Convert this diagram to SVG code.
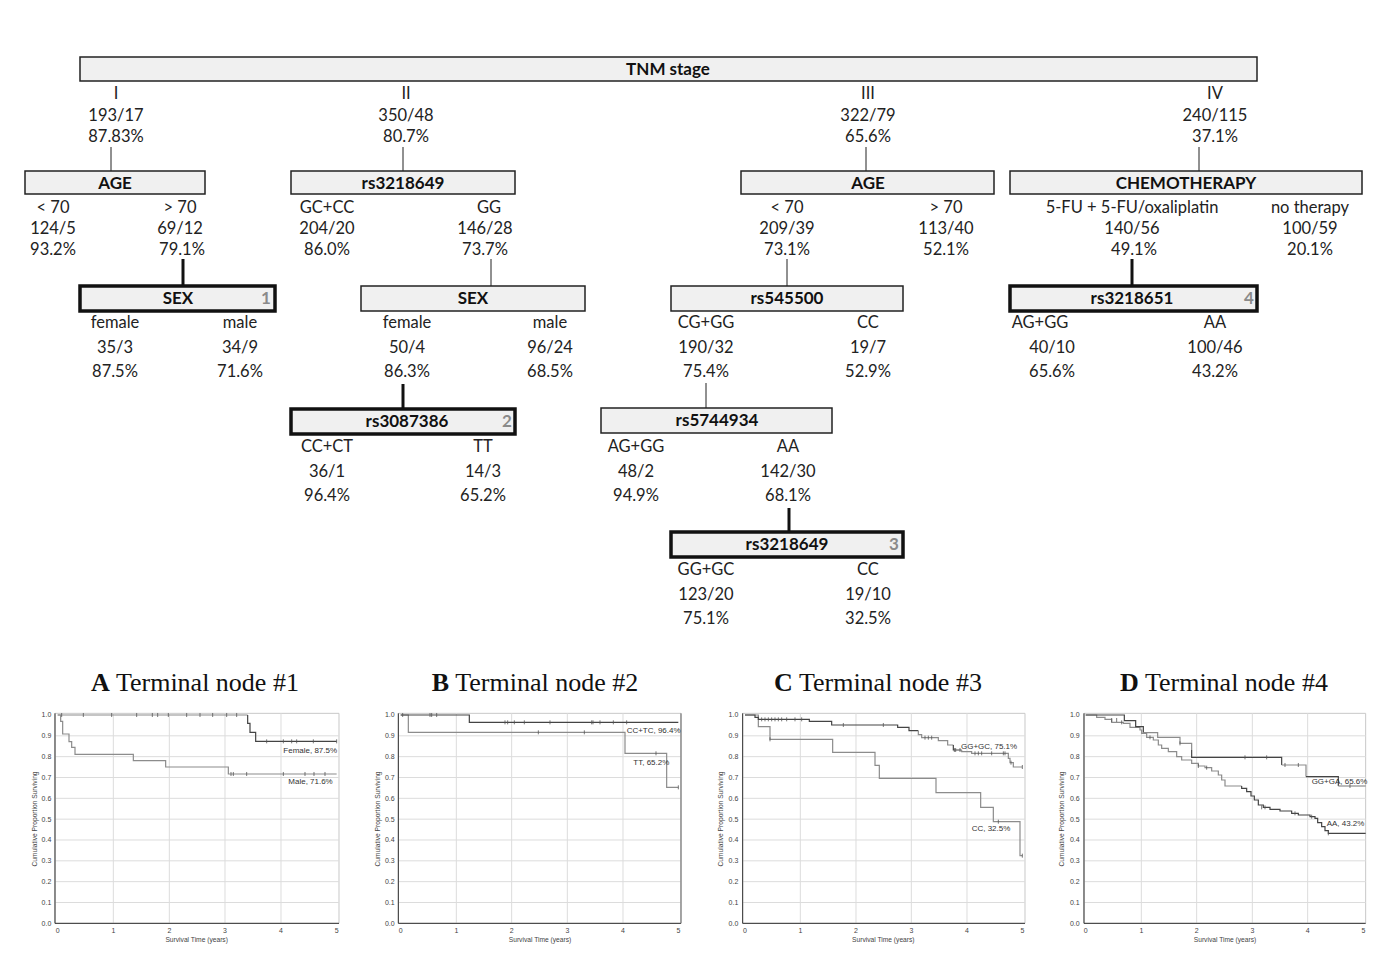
<svg xmlns="http://www.w3.org/2000/svg" width="1387" height="969" viewBox="0 0 1387 969">
<style>
.box{fill:#f0f0f0;stroke:#222;stroke-width:1.5}
.tb{fill:#f0f0f0;stroke:#111;stroke-width:3.5}
.h{font-family:Lato,"Liberation Sans",sans-serif;font-weight:bold;font-size:17px;fill:#111;text-anchor:middle}
.t{font-family:Lato,"Liberation Sans",sans-serif;font-size:16.5px;fill:#222;text-anchor:middle}
.num{font-family:Lato,"Liberation Sans",sans-serif;font-weight:bold;font-size:17px;fill:#8a8a8a;text-anchor:middle}
.ln{stroke:#222;stroke-width:1;fill:none}
.tl{stroke:#111;stroke-width:3;fill:none}
.ttl{font-family:"Liberation Serif","Times New Roman",serif;font-size:26px;fill:#111;text-anchor:middle}
.grid{stroke:#dcdcdc;stroke-width:1;fill:none;vector-effect:non-scaling-stroke}
.frame{stroke:#c8c8c8;stroke-width:1;fill:none;vector-effect:non-scaling-stroke}
.ax{stroke:#333;stroke-width:1;fill:none;vector-effect:non-scaling-stroke}
.cd{stroke:#444;stroke-width:1.2;fill:none;vector-effect:non-scaling-stroke}
.cl{stroke:#8c8c8c;stroke-width:1.2;fill:none;vector-effect:non-scaling-stroke}
.ck{stroke:#555;stroke-width:0.8;fill:none;vector-effect:non-scaling-stroke}
.tk{font-family:"Liberation Sans",Arial,sans-serif;font-size:21px;fill:#444}
.at{font-family:"Liberation Sans",Arial,sans-serif;font-size:20px;fill:#444;text-anchor:middle}
.lb{font-family:"Liberation Sans",Arial,sans-serif;font-size:24px;fill:#333}
</style>
<rect x="0" y="0" width="1387" height="969" fill="#fff"/>

<g id="connectors">
<line class="ln" x1="111" y1="147" x2="111" y2="171"/>
<line class="ln" x1="403" y1="147" x2="403" y2="171"/>
<line class="ln" x1="866" y1="147" x2="866" y2="171"/>
<line class="ln" x1="1199" y1="147" x2="1199" y2="171"/>
<line class="tl" x1="183" y1="259" x2="183" y2="286"/>
<line class="ln" x1="491" y1="259" x2="491" y2="286"/>
<line class="ln" x1="787" y1="259" x2="787" y2="286"/>
<line class="tl" x1="1132" y1="259" x2="1132" y2="286"/>
<line class="tl" x1="403" y1="384" x2="403" y2="408"/>
<line class="ln" x1="706" y1="383" x2="706" y2="408"/>
<line class="tl" x1="789" y1="508" x2="789" y2="531"/>
</g>

<g id="node-tnm">
<rect class="box" x="80" y="57" width="1177" height="24"/>
<text class="h" x="668" y="75">TNM stage</text>
<text class="t" x="116" y="99">I</text><text class="t" x="116" y="121">193/17</text><text class="t" x="116" y="142">87.83%</text>
<text class="t" x="406" y="99">II</text><text class="t" x="406" y="121">350/48</text><text class="t" x="406" y="142">80.7%</text>
<text class="t" x="868" y="99">III</text><text class="t" x="868" y="121">322/79</text><text class="t" x="868" y="142">65.6%</text>
<text class="t" x="1215" y="99">IV</text><text class="t" x="1215" y="121">240/115</text><text class="t" x="1215" y="142">37.1%</text>
</g>

<g id="node-age1">
<rect class="box" x="25" y="171" width="180" height="23"/>
<text class="h" x="115" y="189">AGE</text>
<text class="t" x="53" y="213">&lt; 70</text><text class="t" x="53" y="234">124/5</text><text class="t" x="53" y="255">93.2%</text>
<text class="t" x="180" y="213">&gt; 70</text><text class="t" x="180" y="234">69/12</text><text class="t" x="182" y="255">79.1%</text>
</g>

<g id="node-rs3218649a">
<rect class="box" x="291" y="171" width="224" height="23"/>
<text class="h" x="403" y="189">rs3218649</text>
<text class="t" x="327" y="213">GC+CC</text><text class="t" x="327" y="234">204/20</text><text class="t" x="327" y="255">86.0%</text>
<text class="t" x="489" y="213">GG</text><text class="t" x="485" y="234">146/28</text><text class="t" x="485" y="255">73.7%</text>
</g>

<g id="node-age3">
<rect class="box" x="741" y="171" width="253" height="23"/>
<text class="h" x="868" y="189">AGE</text>
<text class="t" x="787" y="213">&lt; 70</text><text class="t" x="787" y="234">209/39</text><text class="t" x="787" y="255">73.1%</text>
<text class="t" x="946" y="213">&gt; 70</text><text class="t" x="946" y="234">113/40</text><text class="t" x="946" y="255">52.1%</text>
</g>

<g id="node-chemo">
<rect class="box" x="1010" y="171" width="352" height="23"/>
<text class="h" x="1186" y="189">CHEMOTHERAPY</text>
<text class="t" x="1132" y="213">5-FU + 5-FU/oxaliplatin</text><text class="t" x="1132" y="234">140/56</text><text class="t" x="1134" y="255">49.1%</text>
<text class="t" x="1310" y="213">no therapy</text><text class="t" x="1310" y="234">100/59</text><text class="t" x="1310" y="255">20.1%</text>
</g>

<g id="node-sex1">
<rect class="tb" x="80" y="286" width="195" height="25"/>
<text class="h" x="178" y="304">SEX</text>
<text class="num" x="266" y="304">1</text>
<text class="t" x="115" y="328">female</text><text class="t" x="115" y="353">35/3</text><text class="t" x="115" y="377">87.5%</text>
<text class="t" x="240" y="328">male</text><text class="t" x="240" y="353">34/9</text><text class="t" x="240" y="377">71.6%</text>
</g>

<g id="node-sex2">
<rect class="box" x="361" y="286" width="224" height="25"/>
<text class="h" x="473" y="304">SEX</text>
<text class="t" x="407" y="328">female</text><text class="t" x="407" y="353">50/4</text><text class="t" x="407" y="377">86.3%</text>
<text class="t" x="550" y="328">male</text><text class="t" x="550" y="353">96/24</text><text class="t" x="550" y="377">68.5%</text>
</g>

<g id="node-rs545500">
<rect class="box" x="671" y="286" width="232" height="25"/>
<text class="h" x="787" y="304">rs545500</text>
<text class="t" x="706" y="328">CG+GG</text><text class="t" x="706" y="353">190/32</text><text class="t" x="706" y="377">75.4%</text>
<text class="t" x="868" y="328">CC</text><text class="t" x="868" y="353">19/7</text><text class="t" x="868" y="377">52.9%</text>
</g>

<g id="node-rs3218651">
<rect class="tb" x="1010" y="286" width="247" height="25"/>
<text class="h" x="1132" y="304">rs3218651</text>
<text class="num" x="1249" y="304">4</text>
<text class="t" x="1040" y="328">AG+GG</text><text class="t" x="1052" y="353">40/10</text><text class="t" x="1052" y="377">65.6%</text>
<text class="t" x="1215" y="328">AA</text><text class="t" x="1215" y="353">100/46</text><text class="t" x="1215" y="377">43.2%</text>
</g>

<g id="node-rs3087386">
<rect class="tb" x="291" y="409" width="224" height="25"/>
<text class="h" x="407" y="427">rs3087386</text>
<text class="num" x="507" y="427">2</text>
<text class="t" x="327" y="452">CC+CT</text><text class="t" x="327" y="477">36/1</text><text class="t" x="327" y="501">96.4%</text>
<text class="t" x="483" y="452">TT</text><text class="t" x="483" y="477">14/3</text><text class="t" x="483" y="501">65.2%</text>
</g>

<g id="node-rs5744934">
<rect class="box" x="601" y="408" width="231" height="25"/>
<text class="h" x="717" y="426">rs5744934</text>
<text class="t" x="636" y="452">AG+GG</text><text class="t" x="636" y="477">48/2</text><text class="t" x="636" y="501">94.9%</text>
<text class="t" x="788" y="452">AA</text><text class="t" x="788" y="477">142/30</text><text class="t" x="788" y="501">68.1%</text>
</g>

<g id="node-rs3218649b">
<rect class="tb" x="671" y="532" width="232" height="25"/>
<text class="h" x="787" y="550">rs3218649</text>
<text class="num" x="894" y="550">3</text>
<text class="t" x="706" y="575">GG+GC</text><text class="t" x="706" y="600">123/20</text><text class="t" x="706" y="624">75.1%</text>
<text class="t" x="868" y="575">CC</text><text class="t" x="868" y="600">19/10</text><text class="t" x="868" y="624">32.5%</text>
</g>

<!-- Plot titles -->
<g id="titles">
<text class="ttl" x="195" y="691"><tspan font-weight="bold">A</tspan> Terminal node #1</text>
<text class="ttl" x="535" y="691"><tspan font-weight="bold">B</tspan> Terminal node #2</text>
<text class="ttl" x="878" y="691"><tspan font-weight="bold">C</tspan> Terminal node #3</text>
<text class="ttl" x="1224" y="691"><tspan font-weight="bold">D</tspan> Terminal node #4</text>
</g>

<!-- Plot A -->
<g id="plot-A" transform="translate(20,700) scale(0.33333)">
<rect class="frame" x="105" y="40" width="852" height="630"/>
<path class="grid" d="M280,40V670M448,40V670M615,40V670M783,40V670M105,107.5H957M105,170H957M105,232.5H957M105,295H957M105,357.5H957M105,420H957M105,482.5H957M105,545H957M105,607.5H957"/>
<path class="ax" d="M105,40V670H957"/>
<g class="tk" text-anchor="end">
<text x="94" y="52">1.0</text><text x="94" y="115">0.9</text><text x="94" y="177">0.8</text><text x="94" y="240">0.7</text><text x="94" y="302">0.6</text><text x="94" y="365">0.5</text><text x="94" y="427">0.4</text><text x="94" y="490">0.3</text><text x="94" y="552">0.2</text><text x="94" y="615">0.1</text><text x="94" y="677">0.0</text>
</g>
<g class="tk" text-anchor="middle">
<text x="113" y="698">0</text><text x="280" y="698">1</text><text x="448" y="698">2</text><text x="615" y="698">3</text><text x="783" y="698">4</text><text x="950" y="698">5</text>
</g>
<text class="at" x="530" y="725">Survival Time (years)</text>
<text class="at" transform="translate(50,357) rotate(-90)">Cumulative Proportion Surviving</text>
<path class="cl" d="M113,45H122V64H128V102H147V125H155V142H165V163H340V182H437V201H625V222H950"/>
<path class="cl" d="M113,45H683"/>
<path class="cd" d="M683,45V70H690V97H707V124H950"/>
<path class="ck" d="M125,39v12M190,39v12M275,39v12M350,39v12M397,39v12M413,39v12M445,39v12M500,39v12M540,39v12M578,39v12M620,39v12M650,39v12M740,118v12M790,118v12M815,118v12M830,118v12M880,118v12M950,118v12M633,216v12M640,216v12M680,216v12M790,216v12M855,216v12M882,216v12M915,216v12"/>
<text class="lb" x="790" y="160">Female, 87.5%</text>
<text class="lb" x="805" y="253">Male, 71.6%</text>
</g>

<!-- Plot B -->
<g id="plot-B" transform="translate(365,700) scale(0.33333)">
<rect class="frame" x="100" y="40" width="848" height="630"/>
<path class="grid" d="M274,40V670M440,40V670M607,40V670M774,40V670M100,107.5H948M100,170H948M100,232.5H948M100,295H948M100,357.5H948M100,420H948M100,482.5H948M100,545H948M100,607.5H948"/>
<path class="ax" d="M100,40V670H948"/>
<path d="M948,40V670" stroke="#666" stroke-width="1" fill="none" vector-effect="non-scaling-stroke"/>
<g class="tk" text-anchor="end">
<text x="89" y="52">1.0</text><text x="89" y="115">0.9</text><text x="89" y="177">0.8</text><text x="89" y="240">0.7</text><text x="89" y="302">0.6</text><text x="89" y="365">0.5</text><text x="89" y="427">0.4</text><text x="89" y="490">0.3</text><text x="89" y="552">0.2</text><text x="89" y="615">0.1</text><text x="89" y="677">0.0</text>
</g>
<g class="tk" text-anchor="middle">
<text x="107" y="698">0</text><text x="274" y="698">1</text><text x="440" y="698">2</text><text x="607" y="698">3</text><text x="774" y="698">4</text><text x="940" y="698">5</text>
</g>
<text class="at" x="525" y="725">Survival Time (years)</text>
<text class="at" transform="translate(45,357) rotate(-90)">Cumulative Proportion Surviving</text>
<path class="cl" d="M107,45H130V97H780V160H905V262H940"/>
<path class="cd" d="M107,45H313V67H940"/>
<path class="ck" d="M113,39v12M195,39v12M200,39v12M215,39v12M420,61v12M428,61v12M448,61v12M478,61v12M555,61v12M680,61v12M684,61v12M705,61v12M745,61v12M785,61v12M520,91v12M658,91v12M873,154v12M940,256v12"/>
<text class="lb" x="785" y="100">CC+TC, 96.4%</text>
<text class="lb" x="805" y="194">TT, 65.2%</text>
</g>

<!-- Plot C -->
<g id="plot-C" transform="translate(705,700) scale(0.33333)">
<rect class="frame" x="113" y="40" width="847" height="630"/>
<path class="grid" d="M286,40V670M453,40V670M619,40V670M786,40V670M113,107.5H960M113,170H960M113,232.5H960M113,295H960M113,357.5H960M113,420H960M113,482.5H960M113,545H960M113,607.5H960"/>
<path class="ax" d="M113,40V670H960"/>
<g class="tk" text-anchor="end">
<text x="100" y="52">1.0</text><text x="100" y="115">0.9</text><text x="100" y="177">0.8</text><text x="100" y="240">0.7</text><text x="100" y="302">0.6</text><text x="100" y="365">0.5</text><text x="100" y="427">0.4</text><text x="100" y="490">0.3</text><text x="100" y="552">0.2</text><text x="100" y="615">0.1</text><text x="100" y="677">0.0</text>
</g>
<g class="tk" text-anchor="middle">
<text x="120" y="698">0</text><text x="286" y="698">1</text><text x="453" y="698">2</text><text x="619" y="698">3</text><text x="786" y="698">4</text><text x="952" y="698">5</text>
</g>
<text class="at" x="535" y="725">Survival Time (years)</text>
<text class="at" transform="translate(55,357) rotate(-90)">Cumulative Proportion Surviving</text>
<path class="cl" d="M120,45H160V80H195V118H383V157H510V196H523V235H693V278H827V322H865V365H945V467H952"/>
<path class="cd" d="M120,45H150V52H160V58H313V64H380V75H578V82H612V92H640"/>
<path class="cl" d="M640,92V104H650V113H700V122H728V135H745"/>
<path class="cd" d="M745,135V150H770"/>
<path class="cl" d="M770,150V155H800V160H910V175H915V188H925V201H952"/>
<path class="ck" d="M170,52v12M180,52v12M190,52v12M200,52v12M210,52v12M220,52v12M230,52v12M245,52v12M270,52v12M290,52v12M415,69v12M535,69v12M660,107v12M670,107v12M680,107v12M748,144v12M752,144v12M765,144v12M810,154v12M820,154v12M830,154v12M860,154v12M895,154v12M900,154v12M918,182v12M952,195v12M195,112v12M880,359v12M952,461v12"/>
<text class="lb" x="768" y="146">GG+GC, 75.1%</text>
<text class="lb" x="800" y="393">CC, 32.5%</text>
</g>

<!-- Plot D -->
<g id="plot-D" transform="translate(1045,700) scale(0.33333)">
<rect class="frame" x="117" y="40" width="845" height="630"/>
<path class="grid" d="M289,40V670M455,40V670M622,40V670M788,40V670M117,107.5H962M117,170H962M117,232.5H962M117,295H962M117,357.5H962M117,420H962M117,482.5H962M117,545H962M117,607.5H962"/>
<path class="ax" d="M117,40V670H962"/>
<g class="tk" text-anchor="end">
<text x="104" y="52">1.0</text><text x="104" y="115">0.9</text><text x="104" y="177">0.8</text><text x="104" y="240">0.7</text><text x="104" y="302">0.6</text><text x="104" y="365">0.5</text><text x="104" y="427">0.4</text><text x="104" y="490">0.3</text><text x="104" y="552">0.2</text><text x="104" y="615">0.1</text><text x="104" y="677">0.0</text>
</g>
<g class="tk" text-anchor="middle">
<text x="122" y="698">0</text><text x="289" y="698">1</text><text x="455" y="698">2</text><text x="622" y="698">3</text><text x="788" y="698">4</text><text x="955" y="698">5</text>
</g>
<text class="at" x="540" y="725">Survival Time (years)</text>
<text class="at" transform="translate(58,357) rotate(-90)">Cumulative Proportion Surviving</text>
<path class="cl" d="M122,45H155V52H180V58H200V67H235V70H255V82H285V90H290V100H305V112H325V120H340V135H350V145H370V155H395V170H410V180H440V190H460V198H480V203H500V213H520V225H530V240H540V258H590"/>
<path class="cd" d="M590,258V265H605V275H618V288H628V300H640V315H655V322H675V328H705V333H740V340H760V345H795V350H810V355H818V368H830V380H840V392H850V400H962"/>
<path class="cd" d="M122,45H238V62H272V80H295V98"/>
<path class="cl" d="M295,98H338V112H405V130H440V150"/>
<path class="cd" d="M440,150V172H710V195"/>
<path class="cl" d="M710,195H783V230"/>
<path class="cd" d="M783,230H880V258"/>
<path class="cl" d="M880,258H962"/>
<path class="ck" d="M200,54v12M215,54v12M230,61v12M315,106v12M405,124v12M600,166v12M665,166v12M720,189v12M760,189v12M915,252v12M460,192v12M485,197v12M650,316v12M660,316v12M750,334v12M800,344v12M850,394v12"/>
<text class="lb" x="800" y="252" font-size="22">GG+GA, 65.6%</text>
<text class="lb" x="845" y="378">AA, 43.2%</text>
</g>
</svg>
